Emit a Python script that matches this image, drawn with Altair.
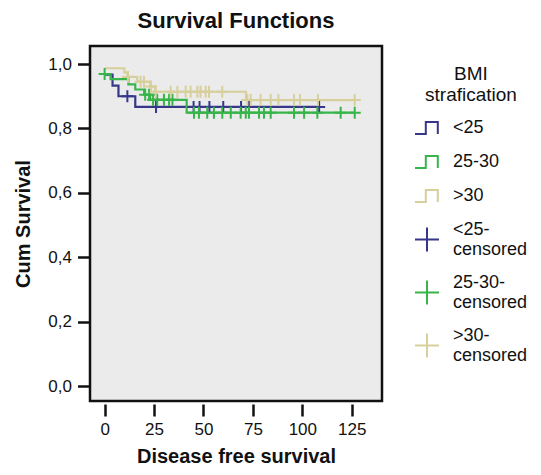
import altair as alt
import pandas as pd

# ---- data ----
series_names = ["<25", "25-30", ">30"]
censor_names = ["<25-censored", "25-30-censored", ">30-censored"]

# step change points (time, survival) for each BMI group
blue_times = [0, 4, 7, 15.5]
blue_surv = [0.967, 0.933, 0.900, 0.867]
blue_end = 108.5
blue_censor = [11.5, 26, 45, 48, 53, 60, 69, 73, 108.5]

green_times = [0, 3, 12, 15.5, 20, 23, 41.5]
green_surv = [0.969, 0.953, 0.937, 0.921, 0.905, 0.889, 0.849]
green_end = 126.5
green_censor = [0, 20.5, 22.5, 24.5, 26.6, 30, 32.6, 34.3, 45.2, 47.7, 51.9, 55.3,
                59.5, 63.8, 68.8, 71.4, 73.0, 78.1, 80.6, 84.0, 95.8, 100.9,
                107.6, 119.4, 126.5]

tan_times = [0, 10, 11.5, 16.5, 23, 25.5, 71.5]
tan_surv = [0.987, 0.974, 0.960, 0.945, 0.930, 0.914, 0.888]
tan_end = 126.5
tan_censor = [11.8, 18.2, 19.9, 23.5, 25.8, 33.4, 36.8, 41.0, 43.5, 46.9, 48.5,
              51.1, 52.8, 59.5, 72.2, 73.9, 78.9, 84.0, 87.9, 95.8, 98.8, 107.9,
              126.5]

x_ticks = [0, 25, 50, 75, 100, 125]
y_ticks = [0.0, 0.2, 0.4, 0.6, 0.8, 1.0]

navy = "#37378a"
green = "#38b54a"
tan = "#d7cf9c"

groups = [
    ("<25", "<25-censored", blue_times, blue_surv, blue_end, blue_censor),
    ("25-30", "25-30-censored", green_times, green_surv, green_end, green_censor),
    (">30", ">30-censored", tan_times, tan_surv, tan_end, tan_censor),
]

line_rows = []
cens_rows = []
for name, cname, times, surv, end, cens in groups:
    for t, s in zip(times, surv):
        line_rows.append({"series": name, "t": t, "s": s})
    line_rows.append({"series": name, "t": end, "s": surv[-1]})
    for c in cens:
        # survival level of the step at the censoring time
        level = surv[0]
        for t, s in zip(times, surv):
            if t <= c:
                level = s
        cens_rows.append({"series": cname, "t": c, "s": level})

lines_df = pd.DataFrame(line_rows)
cens_df = pd.DataFrame(cens_rows)

all_names = series_names + censor_names
all_colors = [navy, green, tan, navy, green, tan]
step_path = "M-1,0.5H-0.1V-0.5H0.9V0.5"
plus_path = "M-1,0H1M0,-1V1"
# legend glyph for censored entries: centred between the two label lines
legend_plus_path = "M-1,0.8H1M0,-0.2V1.8"
legend_shapes = [step_path] * 3 + [legend_plus_path] * 3

FONT = "Liberation Sans"

legend = alt.Legend(
    title=["BMI", "strafication"],
    titleFontWeight="normal",
    titleFontSize=19,
    titleFont=FONT,
    titleColor="#111",
    titleAnchor="middle",
    titleAlign="center",
    titlePadding=10,
    labelFont=FONT,
    labelFontSize=18,
    labelColor="#111",
    labelLimit=200,
    labelOffset=13,
    symbolSize=576,
    symbolStrokeWidth=2,
    symbolFillColor="transparent",
    rowPadding=11,
    orient="none",
    legendX=324,
    legendY=19,
    labelExpr="indexof(datum.label, 'censored') > 0 ? [replace(datum.label, 'censored', ''), 'censored'] : datum.label",
)

color = alt.Color("series:N", scale=alt.Scale(domain=all_names, range=all_colors), legend=legend)
shape = alt.Shape("series:N", scale=alt.Scale(domain=all_names, range=legend_shapes), legend=legend)

xscale = alt.Scale(domain=[-7.4, 140.3], nice=False, zero=False)
yscale = alt.Scale(domain=[-0.046, 1.056], nice=False, zero=False)

xaxis = alt.Axis(
    title="Disease free survival", values=x_ticks, grid=False, domain=False,
    tickSize=12, tickWidth=2.5, tickColor="#111", offset=3,
    labelFontSize=17, labelFont=FONT, labelColor="#111", labelPadding=5,
    titleFontSize=20, titleFont=FONT, titleFontWeight="bold", titleColor="#111",
    titlePadding=9,
)
yaxis = alt.Axis(
    title="Cum Survival", values=y_ticks, grid=False, domain=False,
    tickSize=12.5, tickWidth=2.5, tickColor="#111",
    labelExpr="replace(format(datum.value, '.1f'), '.', ',')",
    labelFontSize=17, labelFont=FONT, labelColor="#111", labelPadding=6,
    titleFontSize=20, titleFont=FONT, titleFontWeight="bold", titleColor="#111",
    titlePadding=14,
)

enc_x = alt.X("t:Q", scale=xscale, axis=xaxis)
enc_y = alt.Y("s:Q", scale=yscale, axis=yaxis)

lines = alt.Chart(lines_df).mark_line(interpolate="step-after", strokeWidth=2.2).encode(
    x=enc_x, y=enc_y, color=color, detail="series:N", order="t:Q",
)

points = alt.Chart(cens_df).mark_point(
    shape=plus_path, filled=False, size=144, strokeWidth=2, opacity=1
).encode(x=enc_x, y=enc_y, color=color)

# carries the shape scale for the legend only (zero-size marks)
legend_carrier = alt.Chart(cens_df).mark_point(filled=False, size=0, strokeWidth=0).encode(
    x=enc_x, y=enc_y, color=color, shape=shape,
)

chart = alt.layer(lines, points, legend_carrier).properties(
    width=292,
    height=355,
    title=alt.TitleParams("Survival Functions", fontSize=22, font=FONT,
                          fontWeight="bold", color="#111", offset=13),
    padding={"left": 5, "top": 2, "right": 0, "bottom": 0},
).configure_view(
    fill="#ebebeb", stroke="#111", strokeWidth=2.5
)

chart.save("out.html", embed_options={"renderer": "svg", "actions": False})
